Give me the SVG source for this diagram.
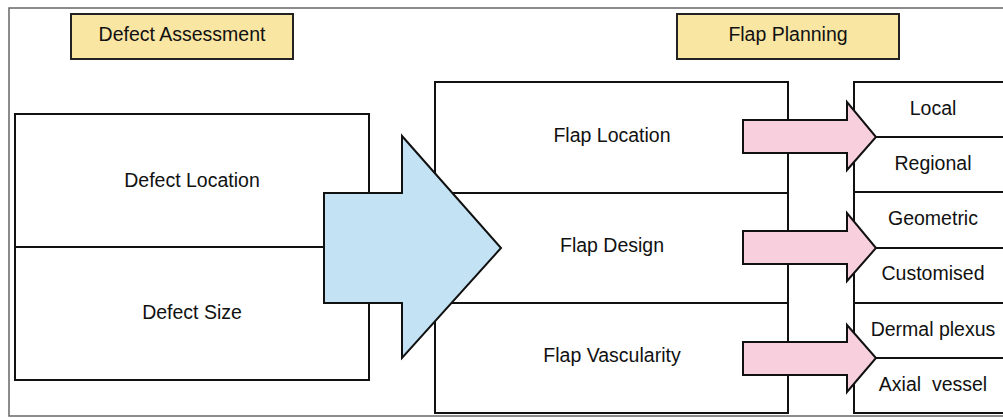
<svg xmlns="http://www.w3.org/2000/svg" width="1003" height="418" viewBox="0 0 1003 418">
<style>
.box{fill:#ffffff;stroke:#111;stroke-width:2}
.hdr{fill:#f9e6a3;stroke:#222;stroke-width:2}
.ln{stroke:#111;stroke-width:2;fill:none}
.t{font-family:"Liberation Sans",Arial,sans-serif;font-size:19.5px;fill:#111;text-anchor:middle;dominant-baseline:central}
.blue{fill:#c3e3f5;stroke:#111;stroke-width:2;stroke-linejoin:miter}
.pink{fill:#f8d0dd;stroke:#111;stroke-width:2;stroke-linejoin:miter}
</style>
<rect x="0" y="0" width="1003" height="418" fill="#fff"/>
<rect x="9" y="8" width="1000" height="408" fill="none" stroke="#666" stroke-width="1.5"/>
<g id="defect-assessment"><rect class="hdr" x="71" y="14" width="222" height="45"/><text class="t" x="182" y="34">Defect Assessment</text></g>
<g id="flap-planning"><rect class="hdr" x="677" y="14" width="222" height="45"/><text class="t" x="788" y="34">Flap Planning</text></g>
<g id="defect-box">
<rect class="box" x="15" y="114" width="354" height="266"/>
<line class="ln" x1="15" y1="247" x2="369" y2="247"/>
<text class="t" x="192" y="180">Defect Location</text>
<text class="t" x="192" y="312">Defect Size</text>
</g>
<g id="flap-box">
<rect class="box" x="435" y="82" width="353" height="331"/>
<line class="ln" x1="435" y1="193" x2="788" y2="193"/>
<line class="ln" x1="435" y1="303" x2="788" y2="303"/>
<text class="t" x="612" y="135">Flap Location</text>
<text class="t" x="612" y="245">Flap Design</text>
<text class="t" x="612" y="355">Flap Vascularity</text>
</g>
<g id="options-box">
<rect class="box" x="854" y="82" width="160" height="331"/>
<line class="ln" x1="854" y1="137" x2="1010" y2="137"/>
<line class="ln" x1="854" y1="192" x2="1010" y2="192"/>
<line class="ln" x1="854" y1="248" x2="1010" y2="248"/>
<line class="ln" x1="854" y1="303" x2="1010" y2="303"/>
<line class="ln" x1="854" y1="358" x2="1010" y2="358"/>
<text class="t" x="933" y="108">Local</text>
<text class="t" x="933" y="163">Regional</text>
<text class="t" x="933" y="218">Geometric</text>
<text class="t" x="933" y="273">Customised</text>
<text class="t" x="933" y="329">Dermal plexus</text>
<text class="t" x="933" y="384" xml:space="preserve">Axial  vessel</text>
</g>
<g id="connectors">
<polygon class="blue" points="324,193 402,193 402,136 501,248 402,358 402,303 324,303"/>
<polygon class="pink" points="743,120 847,120 847,102 876,137 847,170 847,153 743,153"/>
<polygon class="pink" points="743,231 847,231 847,213 876,248 847,281 847,264 743,264"/>
<polygon class="pink" points="743,342 847,342 847,325 876,358 847,392 847,375 743,375"/>
</g>
</svg>
